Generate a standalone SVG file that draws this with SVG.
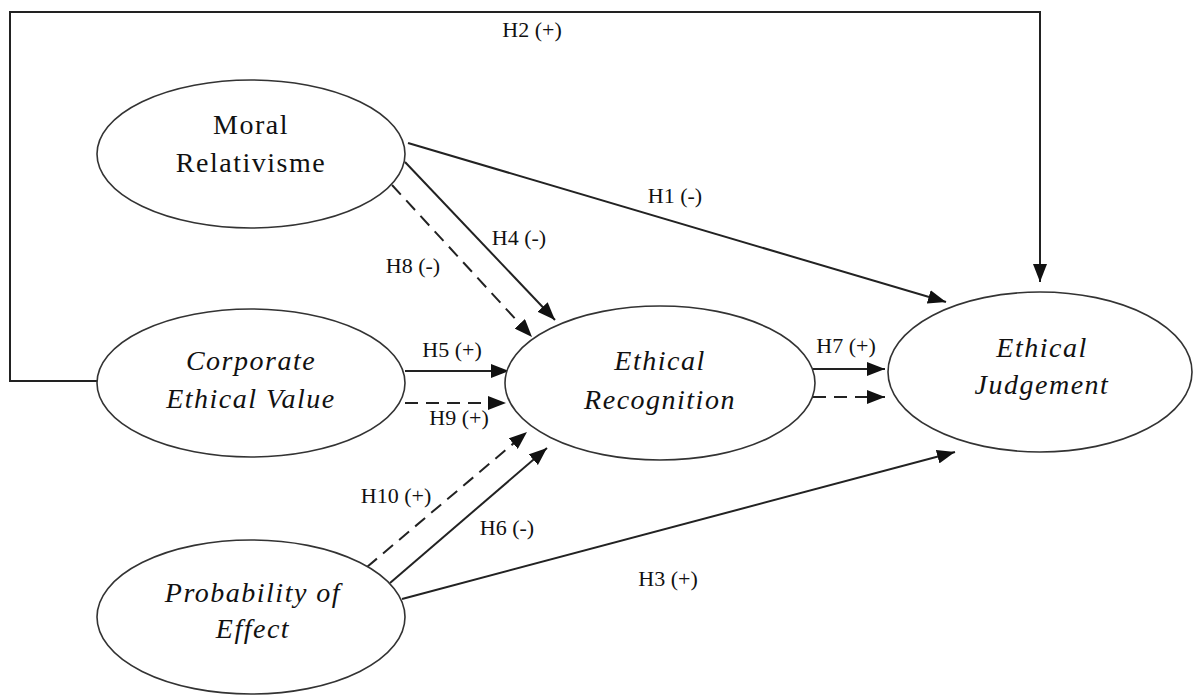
<svg xmlns="http://www.w3.org/2000/svg" width="1194" height="698" viewBox="0 0 1194 698">
<style>
.node{fill:#fff;stroke:#333;stroke-width:1.6}
.nt{font-family:"Liberation Serif",serif;font-size:28px;letter-spacing:1.5px;fill:#111;text-anchor:middle}
.it{font-style:italic}
.lb{font-family:"Liberation Serif",serif;font-size:22px;fill:#111;text-anchor:middle}
.c{fill:none;stroke:#222;stroke-width:2}
.d{stroke-dasharray:13 8}
</style>
<defs>
<marker id="ah" markerUnits="userSpaceOnUse" markerWidth="20" markerHeight="14" refX="18" refY="7" orient="auto">
<path d="M0,0 L18,7 L0,14 Z" fill="#111"/>
</marker>
</defs>
<g id="connectors">
<path class="c" d="M97,381 H10 V12 H1040 V282" stroke="#444" marker-end="url(#ah)"/>
<line class="c" x1="408" y1="143" x2="946" y2="302" marker-end="url(#ah)"/>
<line class="c" x1="405" y1="162" x2="555" y2="320" marker-end="url(#ah)"/>
<line class="c d" x1="392" y1="185" x2="532" y2="337" marker-end="url(#ah)"/>
<line class="c" x1="405" y1="371" x2="509" y2="371" marker-end="url(#ah)"/>
<line class="c d" x1="405" y1="403" x2="506" y2="403" marker-end="url(#ah)"/>
<line class="c d" x1="367" y1="567" x2="527" y2="432" marker-end="url(#ah)"/>
<line class="c" x1="390" y1="583" x2="547" y2="448" marker-end="url(#ah)"/>
<line class="c" x1="402" y1="599" x2="955" y2="452" marker-end="url(#ah)"/>
<line class="c" x1="813" y1="369" x2="885" y2="369" marker-end="url(#ah)"/>
<line class="c d" x1="813" y1="397" x2="885" y2="397" marker-end="url(#ah)"/>
</g>
<g id="labels">
<text class="lb" x="532" y="37">H2 (+)</text>
<text class="lb" x="675" y="203">H1 (-)</text>
<text class="lb" x="519" y="245">H4 (-)</text>
<text class="lb" x="413" y="273">H8 (-)</text>
<text class="lb" x="452" y="357">H5 (+)</text>
<text class="lb" x="459" y="425">H9 (+)</text>
<text class="lb" x="396" y="503">H10 (+)</text>
<text class="lb" x="507" y="535">H6 (-)</text>
<text class="lb" x="668" y="586">H3 (+)</text>
<text class="lb" x="846" y="353">H7 (+)</text>
</g>
<g id="moral-relativisme">
<ellipse class="node" cx="251" cy="154" rx="154" ry="74"/>
<text class="nt" x="251" y="134">Moral</text>
<text class="nt" x="251" y="172">Relativisme</text>
</g>
<g id="corporate-ethical-value">
<ellipse class="node" cx="251" cy="383" rx="154" ry="74"/>
<text class="nt it" x="251" y="370">Corporate</text>
<text class="nt it" x="251" y="408">Ethical Value</text>
</g>
<g id="probability-of-effect">
<ellipse class="node" cx="251" cy="617" rx="154" ry="77"/>
<text class="nt it" x="253" y="602">Probability of</text>
<text class="nt it" x="253" y="638">Effect</text>
</g>
<g id="ethical-recognition">
<ellipse class="node" cx="660" cy="383" rx="155" ry="77"/>
<text class="nt it" x="660" y="370">Ethical</text>
<text class="nt it" x="660" y="409">Recognition</text>
</g>
<g id="ethical-judgement">
<ellipse class="node" cx="1040" cy="372" rx="152" ry="80"/>
<text class="nt it" x="1042" y="357">Ethical</text>
<text class="nt it" x="1042" y="394">Judgement</text>
</g>
</svg>
